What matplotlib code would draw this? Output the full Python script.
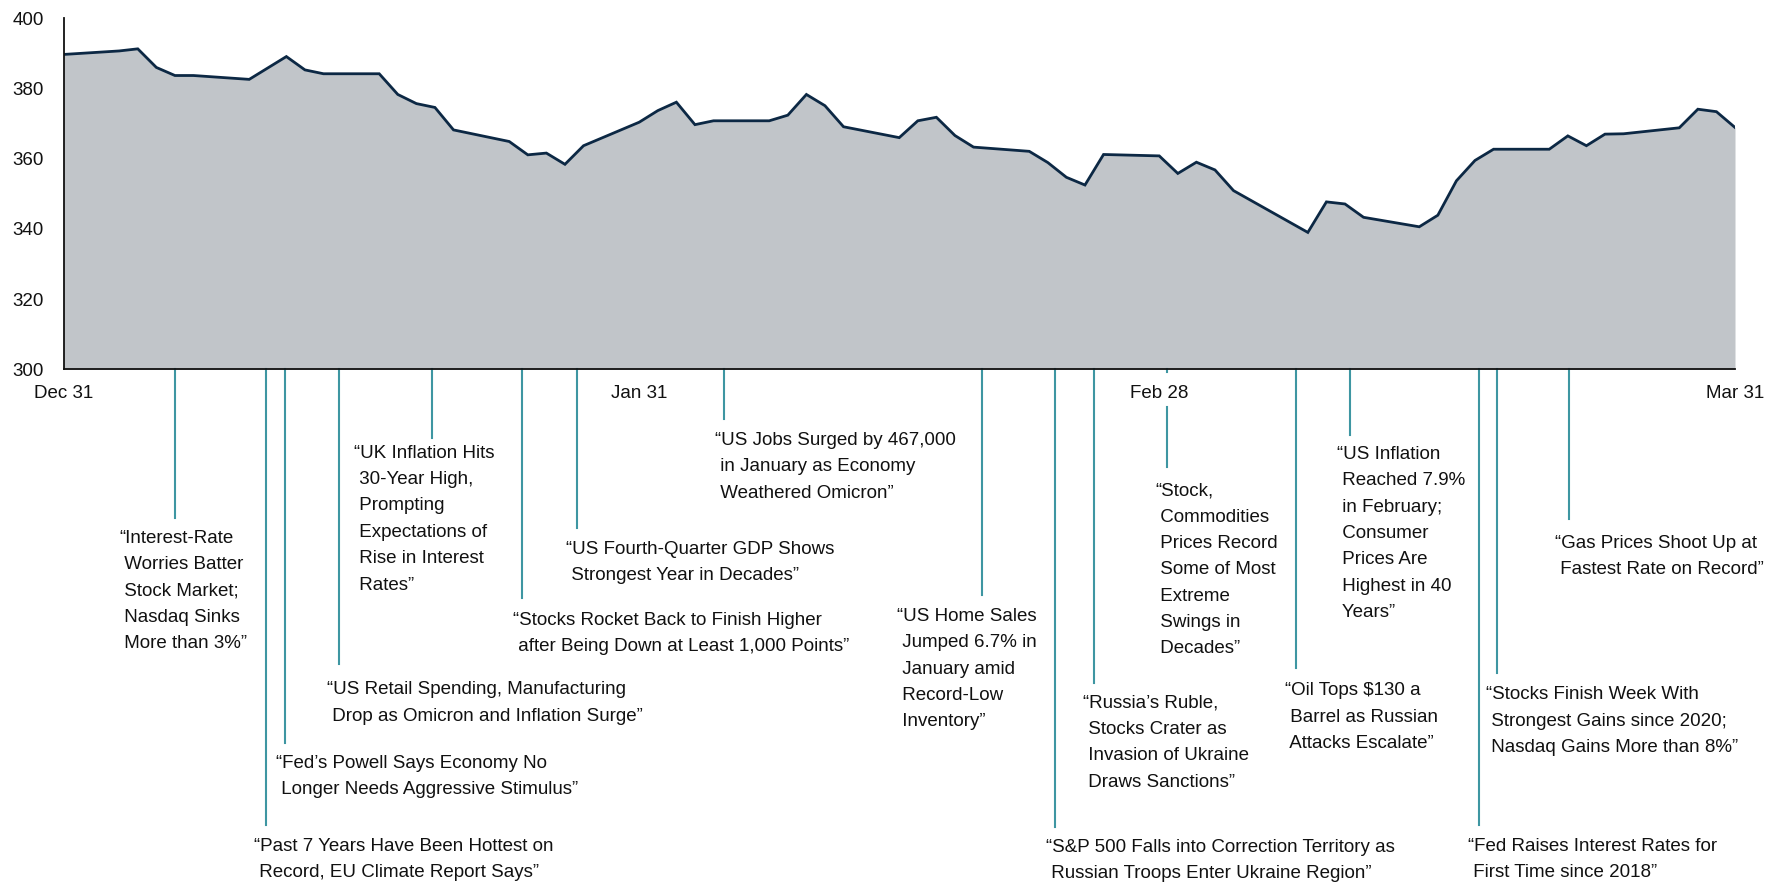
import matplotlib
matplotlib.use("Agg")
import matplotlib.pyplot as plt
import pandas as pd

plt.rcParams['font.family'] = ['Liberation Sans', 'DejaVu Sans']

# ---------------- data ----------------
dates = ["2021-12-31", "2022-01-03", "2022-01-04", "2022-01-05", "2022-01-06", "2022-01-07",
         "2022-01-10", "2022-01-12", "2022-01-13", "2022-01-14", "2022-01-17", "2022-01-18",
         "2022-01-19", "2022-01-20", "2022-01-21", "2022-01-24", "2022-01-25", "2022-01-26",
         "2022-01-27", "2022-01-28", "2022-01-31", "2022-02-01", "2022-02-02", "2022-02-03",
         "2022-02-04", "2022-02-07", "2022-02-08", "2022-02-09", "2022-02-10", "2022-02-11",
         "2022-02-14", "2022-02-15", "2022-02-16", "2022-02-17", "2022-02-18", "2022-02-21",
         "2022-02-22", "2022-02-23", "2022-02-24", "2022-02-25", "2022-02-28", "2022-03-01",
         "2022-03-02", "2022-03-03", "2022-03-04", "2022-03-08", "2022-03-09", "2022-03-10",
         "2022-03-11", "2022-03-14", "2022-03-15", "2022-03-16", "2022-03-17", "2022-03-18",
         "2022-03-21", "2022-03-22", "2022-03-23", "2022-03-24", "2022-03-25", "2022-03-28",
         "2022-03-29", "2022-03-30", "2022-03-31"]
values = [389.7, 390.7, 391.3, 386.0, 383.7, 383.7,
          382.6, 389.1, 385.3, 384.2, 384.2, 378.3,
          375.7, 374.6, 368.2, 364.9, 361.1, 361.6,
          358.4, 363.7, 370.4, 373.7, 376.1, 369.7,
          370.8, 370.8, 372.4, 378.3, 375.1, 369.1,
          366.0, 370.8, 371.8, 366.6, 363.3, 362.1,
          358.9, 354.7, 352.5, 361.2, 360.8, 355.8,
          359.0, 356.8, 350.9, 339.0, 347.7, 347.1,
          343.3, 340.6, 343.9, 353.7, 359.5, 362.7,
          362.7, 366.5, 363.7, 367.0, 367.1, 368.8,
          374.1, 373.4, 368.9]

start = pd.Timestamp("2021-12-31")
x_days = [(pd.Timestamp(d) - start).days for d in dates]

tick_days = [0, 31, 59, 90]
tick_labels = ["Dec 31", "Jan 31", "Feb 28", "Mar 31"]
y_ticks = [300, 320, 340, 360, 380, 400]

# headline events: position (days after Dec 31) and headline text
event_days = [6.0, 10.9, 11.93, 14.84, 19.84, 24.69, 27.65, 35.57,
              49.44, 53.39, 55.47, 59.40, 66.34, 69.28, 76.21, 77.2, 81.07]
event_text = [
    "\u201cInterest-Rate\n Worries Batter\n Stock Market;\n Nasdaq Sinks\n More than 3%\u201d",
    "\u201cPast 7 Years Have Been Hottest on\n Record, EU Climate Report Says\u201d",
    "\u201cFed\u2019s Powell Says Economy No\n Longer Needs Aggressive Stimulus\u201d",
    "\u201cUS Retail Spending, Manufacturing\n Drop as Omicron and Inflation Surge\u201d",
    "\u201cUK Inflation Hits\n 30-Year High,\n Prompting\n Expectations of\n Rise in Interest\n Rates\u201d",
    "\u201cStocks Rocket Back to Finish Higher\n after Being Down at Least 1,000 Points\u201d",
    "\u201cUS Fourth-Quarter GDP Shows\n Strongest Year in Decades\u201d",
    "\u201cUS Jobs Surged by 467,000\n in January as Economy\n Weathered Omicron\u201d",
    "\u201cUS Home Sales\n Jumped 6.7% in\n January amid\n Record-Low\n Inventory\u201d",
    "\u201cS&P 500 Falls into Correction Territory as\n Russian Troops Enter Ukraine Region\u201d",
    "\u201cRussia\u2019s Ruble,\n Stocks Crater as\n Invasion of Ukraine\n Draws Sanctions\u201d",
    "\u201cStock,\n Commodities\n Prices Record\n Some of Most\n Extreme\n Swings in\n Decades\u201d",
    "\u201cOil Tops \\$130 a\n Barrel as Russian\n Attacks Escalate\u201d",
    "\u201cUS Inflation\n Reached 7.9%\n in February;\n Consumer\n Prices Are\n Highest in 40\n Years\u201d",
    "\u201cFed Raises Interest Rates for\n First Time since 2018\u201d",
    "\u201cStocks Finish Week With\n Strongest Gains since 2020;\n Nasdaq Gains More than 8%\u201d",
    "\u201cGas Prices Shoot Up at\n Fastest Rate on Record\u201d",
]

# ---------------- layout (leader line ends and text anchors, in axis units) ----------------
line_end = [257.6, 170.2, 193.5, 216.0, 280.5, 234.8, 254.8, 285.8,
            235.7, 169.6, 210.6, 272.2, 214.9, 281.4, 170.2, 213.5, 257.4]
text_xy = [(2.99, 254.3), (10.26, 166.5), (11.42, 190.2), (14.19, 211.1), (15.64, 278.5),
           (24.18, 230.9), (27.03, 251.2), (35.06, 282.1), (44.88, 232.0), (52.88, 166.2),
           (54.88, 207.3), (58.78, 267.8), (65.79, 210.8), (68.56, 278.2), (75.63, 166.5),
           (76.60, 209.7), (80.32, 252.9)]
# gap left for the "Feb 28" tick label on the line that crosses it
gaps = {11: (299.15, 289.3)}

AREA = "#c1c5c9"
NAVY = "#0c2844"
TEAL = "#3e96a2"
TXT = "#111111"
FS = 13.5

fig = plt.figure(figsize=(17.75, 8.82), dpi=100)
ax = fig.add_axes([63.5 / 1775, 1 - 369.3 / 882, (1735 - 63.5) / 1775, (369.3 - 18.3) / 882])

ax.fill_between(x_days, values, 300, color=AREA, linewidth=0, zorder=1)
ax.plot(x_days, values, color=NAVY, linewidth=2.0, zorder=3, solid_joinstyle="miter")

ax.set_xlim(0, 90)
ax.set_ylim(300, 400)
ax.set_xticks(tick_days)
ax.set_xticklabels(tick_labels)
ax.set_yticks(y_ticks)
ax.tick_params(axis="both", length=0, labelsize=FS, colors=TXT)
ax.tick_params(axis="x", pad=11)
ax.tick_params(axis="y", pad=14)
for s in ["top", "right"]:
    ax.spines[s].set_visible(False)
for s in ["left", "bottom"]:
    ax.spines[s].set_linewidth(1.3)
    ax.spines[s].set_color("#111111")
    ax.spines[s].set_zorder(4)

for i, (d, ye, txt) in enumerate(zip(event_days, line_end, event_text)):
    if i in gaps:
        g0, g1 = gaps[i]
        ax.plot([d, d], [300, g0], color=TEAL, lw=1.5, clip_on=False, zorder=2)
        ax.plot([d, d], [g1, ye], color=TEAL, lw=1.5, clip_on=False, zorder=2)
    else:
        ax.plot([d, d], [300, ye], color=TEAL, lw=1.5, clip_on=False, zorder=2)
    tx, ty = text_xy[i]
    ax.text(tx, ty, txt, ha="left", va="top", fontsize=FS, color=TXT,
            linespacing=1.72, clip_on=False)

fig.savefig("out.png", dpi=100)
